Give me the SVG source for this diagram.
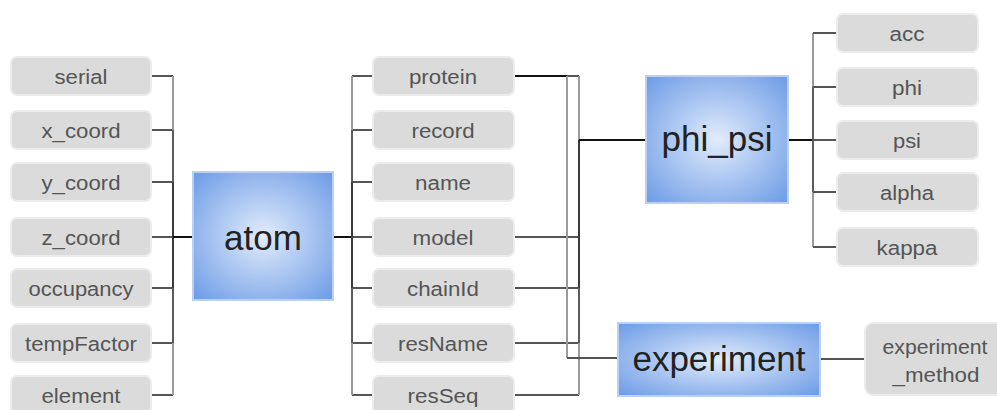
<svg xmlns="http://www.w3.org/2000/svg" width="997" height="410" viewBox="0 0 997 410">
<style>
.box{fill:#dbdbdb;stroke:#ececec;stroke-width:2}
.big{stroke:#bcd0f3;stroke-width:2}
.t{font-family:"Liberation Sans",Arial,sans-serif;font-size:20px;fill:#555;text-anchor:middle}
.T{font-family:"Liberation Sans",Arial,sans-serif;font-size:35px;fill:#222;text-anchor:middle}
.s{stroke:#555;stroke-width:2;fill:none}
.b1{stroke:#9a9a9a;stroke-width:2;fill:none}
.b2{stroke:#5c5c5c;stroke-width:2;fill:none}
.b3{stroke:#3a3a3a;stroke-width:2;fill:none}
.k{stroke:#111;stroke-width:2;fill:none}
</style>
<defs>
<radialGradient id="bg" cx="50%" cy="50%" r="70%">
<stop offset="0" stop-color="#e2ecfb"/>
<stop offset="1" stop-color="#6c9be6"/>
</radialGradient>
</defs>
<rect width="997" height="410" fill="#fff"/>
<g id="connectors">
<path class="s" d="M151,76H173M151,130H173M151,182H173M151,237H173M151,288H173M151,343H173M151,395H173"/>
<path class="b1" d="M173,76V130M173,343V395"/>
<path class="b2" d="M173,130V182M173,288V343"/>
<path class="b3" d="M173,182V288"/>
<path class="k" d="M173,237H193"/>
<path class="k" d="M333,237H352"/>
<path class="s" d="M352,76H373M352,130H373M352,182H373M352,237H373M352,288H373M352,343H373M352,395H373"/>
<path class="b1" d="M352,76V130M352,343V395"/>
<path class="b2" d="M352,130V182M352,288V343"/>
<path class="b3" d="M352,182V288"/>
<path class="k" d="M514,76H567"/>
<path class="s" d="M567,76H579M514,237H579M514,288H579M514,343H579M514,395H579"/>
<path class="b1" d="M579,76V140M579,343V395M567,76V358"/>
<path class="b3" d="M579,140V288"/>
<path class="b2" d="M579,288V343"/>
<path class="k" d="M579,140H647"/>
<path class="s" d="M567,358H618"/>
<path class="k" d="M788,140H813"/>
<path class="b1" d="M813,33V87M813,192V247"/>
<path class="b2" d="M813,87V192"/>
<path class="s" d="M813,33H837M813,87H837M813,140H837M813,192H837M813,247H837"/>
<path class="s" d="M820,359H865"/>
</g>
<g id="serial"><rect class="box" x="11" y="57" width="140" height="38" rx="6"/><text class="t" x="81" y="84" textLength="53" lengthAdjust="spacingAndGlyphs">serial</text></g>
<g id="x_coord"><rect class="box" x="11" y="111" width="140" height="38" rx="6"/><text class="t" x="81" y="138" textLength="79" lengthAdjust="spacingAndGlyphs">x_coord</text></g>
<g id="y_coord"><rect class="box" x="11" y="163" width="140" height="38" rx="6"/><text class="t" x="81" y="190" textLength="79" lengthAdjust="spacingAndGlyphs">y_coord</text></g>
<g id="z_coord"><rect class="box" x="11" y="218" width="140" height="38" rx="6"/><text class="t" x="81" y="245" textLength="79" lengthAdjust="spacingAndGlyphs">z_coord</text></g>
<g id="occupancy"><rect class="box" x="11" y="269" width="140" height="38" rx="6"/><text class="t" x="81" y="296" textLength="105" lengthAdjust="spacingAndGlyphs">occupancy</text></g>
<g id="tempFactor"><rect class="box" x="11" y="324" width="140" height="38" rx="6"/><text class="t" x="81" y="351" textLength="112" lengthAdjust="spacingAndGlyphs">tempFactor</text></g>
<g id="element"><rect class="box" x="11" y="376" width="140" height="38" rx="6"/><text class="t" x="81" y="403" textLength="79" lengthAdjust="spacingAndGlyphs">element</text></g>
<g id="atom"><rect class="big" x="193" y="172" width="140" height="128" fill="url(#bg)"/><text class="T" x="263" y="250">atom</text></g>
<g id="protein"><rect class="box" x="373" y="57" width="141" height="38" rx="6"/><text class="t" x="443" y="84" textLength="68" lengthAdjust="spacingAndGlyphs">protein</text></g>
<g id="record"><rect class="box" x="373" y="111" width="141" height="38" rx="6"/><text class="t" x="443" y="138" textLength="63" lengthAdjust="spacingAndGlyphs">record</text></g>
<g id="name"><rect class="box" x="373" y="163" width="141" height="38" rx="6"/><text class="t" x="443" y="190" textLength="56" lengthAdjust="spacingAndGlyphs">name</text></g>
<g id="model"><rect class="box" x="373" y="218" width="141" height="38" rx="6"/><text class="t" x="443" y="245" textLength="61" lengthAdjust="spacingAndGlyphs">model</text></g>
<g id="chainId"><rect class="box" x="373" y="269" width="141" height="38" rx="6"/><text class="t" x="443" y="296" textLength="72" lengthAdjust="spacingAndGlyphs">chainId</text></g>
<g id="resName"><rect class="box" x="373" y="324" width="141" height="38" rx="6"/><text class="t" x="443" y="351" textLength="90" lengthAdjust="spacingAndGlyphs">resName</text></g>
<g id="resSeq"><rect class="box" x="373" y="376" width="141" height="38" rx="6"/><text class="t" x="443" y="403" textLength="71" lengthAdjust="spacingAndGlyphs">resSeq</text></g>
<g id="phi_psi"><rect class="big" x="646" y="76" width="142" height="127" fill="url(#bg)"/><text class="T" x="717" y="151">phi_psi</text></g>
<g id="acc"><rect class="box" x="837" y="14" width="141" height="38" rx="6"/><text class="t" x="907" y="41" textLength="35" lengthAdjust="spacingAndGlyphs">acc</text></g>
<g id="phi"><rect class="box" x="837" y="68" width="141" height="38" rx="6"/><text class="t" x="907" y="95" textLength="30" lengthAdjust="spacingAndGlyphs">phi</text></g>
<g id="psi"><rect class="box" x="837" y="121" width="141" height="38" rx="6"/><text class="t" x="907" y="148" textLength="28" lengthAdjust="spacingAndGlyphs">psi</text></g>
<g id="alpha"><rect class="box" x="837" y="173" width="141" height="38" rx="6"/><text class="t" x="907" y="200" textLength="54" lengthAdjust="spacingAndGlyphs">alpha</text></g>
<g id="kappa"><rect class="box" x="837" y="228" width="141" height="38" rx="6"/><text class="t" x="907" y="255" textLength="61" lengthAdjust="spacingAndGlyphs">kappa</text></g>
<g id="experiment"><rect class="big" x="618" y="323" width="202" height="73" fill="url(#bg)"/><text class="T" x="719" y="371">experiment</text></g>
<g id="experiment_method"><rect class="box" x="865" y="323" width="142" height="72" rx="8"/><text class="t" x="935" y="354" textLength="105" lengthAdjust="spacingAndGlyphs">experiment</text><text class="t" x="936" y="382" textLength="87" lengthAdjust="spacingAndGlyphs">_method</text></g>
</svg>
